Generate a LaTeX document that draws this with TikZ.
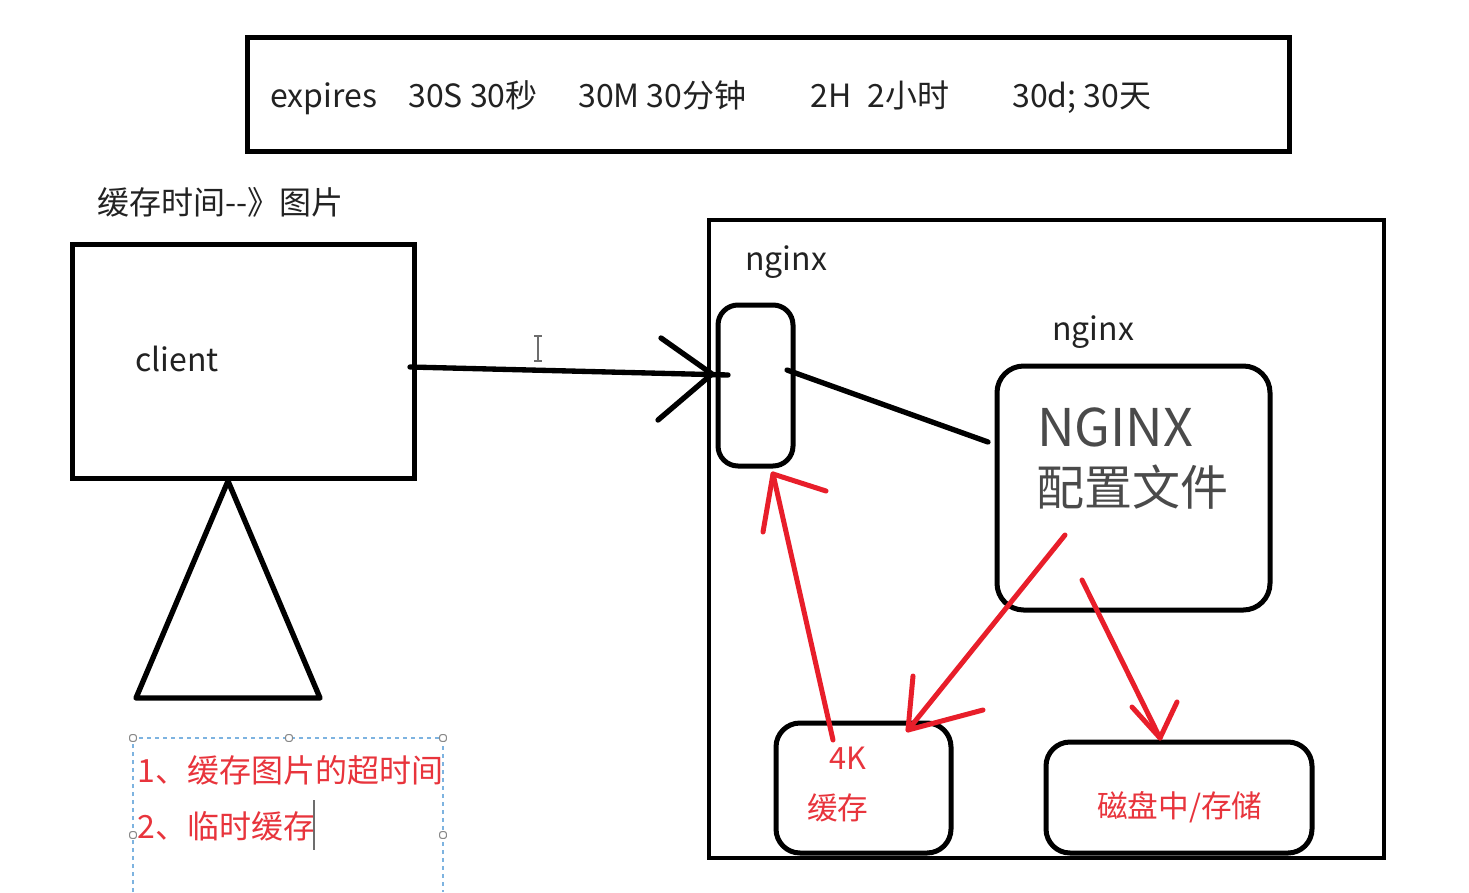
\documentclass[tikz,border=0pt]{standalone}
\usepackage{fontspec}
\setmainfont{Noto Sans CJK SC}
\definecolor{txt}{HTML}{222222}
\definecolor{graytxt}{HTML}{4A4A4A}
\definecolor{redtxt}{HTML}{E8343C}
\definecolor{redarrow}{HTML}{E81E2A}
\definecolor{selblue}{HTML}{7DB3E0}
\definecolor{handle}{HTML}{888888}
\begin{document}
\begin{tikzpicture}[x=0.75pt,y=-0.75pt,
  frame/.style={draw=black,line width=3.75pt,inner sep=0pt,fill=none},
  rbox/.style={frame,rounded corners=18pt},
  lbl/.style={anchor=base west,inner sep=0pt,text=txt,font=\fontsize{24pt}{28pt}\selectfont},
  redlbl/.style={lbl,text=redtxt},
  bigtxt/.style={lbl,text=graytxt,font=\fontsize{36pt}{40pt}\selectfont},
  redline/.style={draw=redarrow,line width=3.75pt,line cap=round,line join=round},
  blkline/.style={draw=black,line width=4pt,line cap=round,line join=round},
  hnd/.style={draw=handle,fill=white,line width=0.8pt,minimum size=5pt,inner sep=0pt,rounded corners=1.5pt}]
\useasboundingbox (0,0) rectangle (1469,892);
\fill[white] (0,0) rectangle (1469,892);

% top box
\node[frame,line width=3.75pt,minimum width=781.5pt,minimum height=84.75pt] (top) at (768,94.5) {};
\node[lbl] (t1) at (270,107) {expires};
\node[lbl] (t2) at (408,107) {30S 30秒};
\node[lbl] (t3) at (578,107) {30M 30分钟};
\node[lbl] (t4) at (810,107) {2H\enspace 2小时};
\node[lbl] (t5) at (1012,107) {30d; 30天};

% left side
\node[lbl] (cap) at (97,214) {缓存时间-{}-》图片};
\node[frame,minimum width=256.5pt,minimum height=175.5pt] (client) at (243,361) {};
\node[lbl] (clientlbl) at (135,371) {client};
\coordinate (triA) at (228,481);
\coordinate (triB) at (320,698);
\coordinate (triC) at (136,698);
\draw[blkline] (triA) -- (triB) -- (triC) -- cycle;

% selected text box
\coordinate (s1) at (133,738);
\coordinate (s2) at (443,738);
\draw[selblue,line width=1.5pt,dash pattern=on 3pt off 3pt] (133,892) -- (s1) -- (s2) -- (443,892);
\node[hnd] (h1) at (133,738) {};
\node[hnd] (h2) at (289,738) {};
\node[hnd] (h3) at (443,738) {};
\node[hnd] (h4) at (133,835) {};
\node[hnd] (h5) at (443,835) {};
\node[redlbl,font=\fontsize{24pt}{28pt}\selectfont] (r1) at (137,782) {1、缓存图片的超时间};
\node[redlbl,font=\fontsize{24pt}{28pt}\selectfont] (r2) at (137,838) {2、临时缓存};
\draw[handle!80!black,line width=1.2pt] (314,800) -- (314,850);

% nginx outer box
\node[frame,line width=3.5pt,minimum width=506.25pt,minimum height=478.5pt] (ngx) at (1046.5,539) {};
\node[lbl] (ngxlbl) at (745,270) {nginx};
\node[rbox,rounded corners=15pt,minimum width=56.25pt,minimum height=120.75pt] (port) at (755.5,385.5) {};
\node[lbl] (ngxlbl2) at (1052,340) {nginx};
\node[rbox,rounded corners=20pt,minimum width=204.75pt,minimum height=183pt] (conf) at (1133.5,488) {};
\node[bigtxt,font=\fontsize{39pt}{42pt}\selectfont] (conf1) at (1037,446) {NGINX};
\node[bigtxt] (conf2) at (1036,505) {配置文件};
\node[rbox,minimum width=131.25pt,minimum height=97.5pt] (cache) at (863.5,788) {};
\node[redlbl,font=\fontsize{23pt}{26pt}\selectfont] (k4) at (829,769) {4K};
\node[redlbl,font=\fontsize{23pt}{26pt}\selectfont] (cachelbl) at (807,819) {缓存};
\node[rbox,minimum width=199.5pt,minimum height=83.25pt] (disk) at (1179,797.5) {};
\node[redlbl,font=\fontsize{23pt}{26pt}\selectfont] (disklbl) at (1097,817) {磁盘中/存储};

% black arrow client -> port
\coordinate (a0) at (410,367);
\coordinate (a1) at (728,375);
\coordinate (ah) at (712,374);
\coordinate (ah1) at (661,338);
\coordinate (ah2) at (658,420);
\draw[blkline] (a0) -- (a1);
\draw[blkline] (ah1) -- (ah) -- (ah2);
% text cursor
\draw[handle!80!black,line width=1.2pt] (538,336) -- (538,361) (534,336) -- (542,336) (534,361) -- (542,361);

% port -> conf line
\coordinate (l0) at (787,370);
\coordinate (l1) at (988,442);
\draw[blkline] (l0) -- (l1);

% red arrows
\coordinate (p0) at (833,740);
\coordinate (p1) at (773,474);
\draw[redline] (p0) -- (p1);
\draw[redline] (763,532) -- (p1) -- (826,491);

\coordinate (q0) at (1065,535);
\coordinate (q1) at (908,730);
\draw[redline] (q0) -- (q1);
\draw[redline] (913,676) -- (q1) -- (983,710);

\coordinate (u0) at (1082,580);
\coordinate (u1) at (1160,738);
\draw[redline] (u0) -- (u1);
\draw[redline] (1132,707) -- (u1) -- (1177,702);
\end{tikzpicture}
\end{document}
